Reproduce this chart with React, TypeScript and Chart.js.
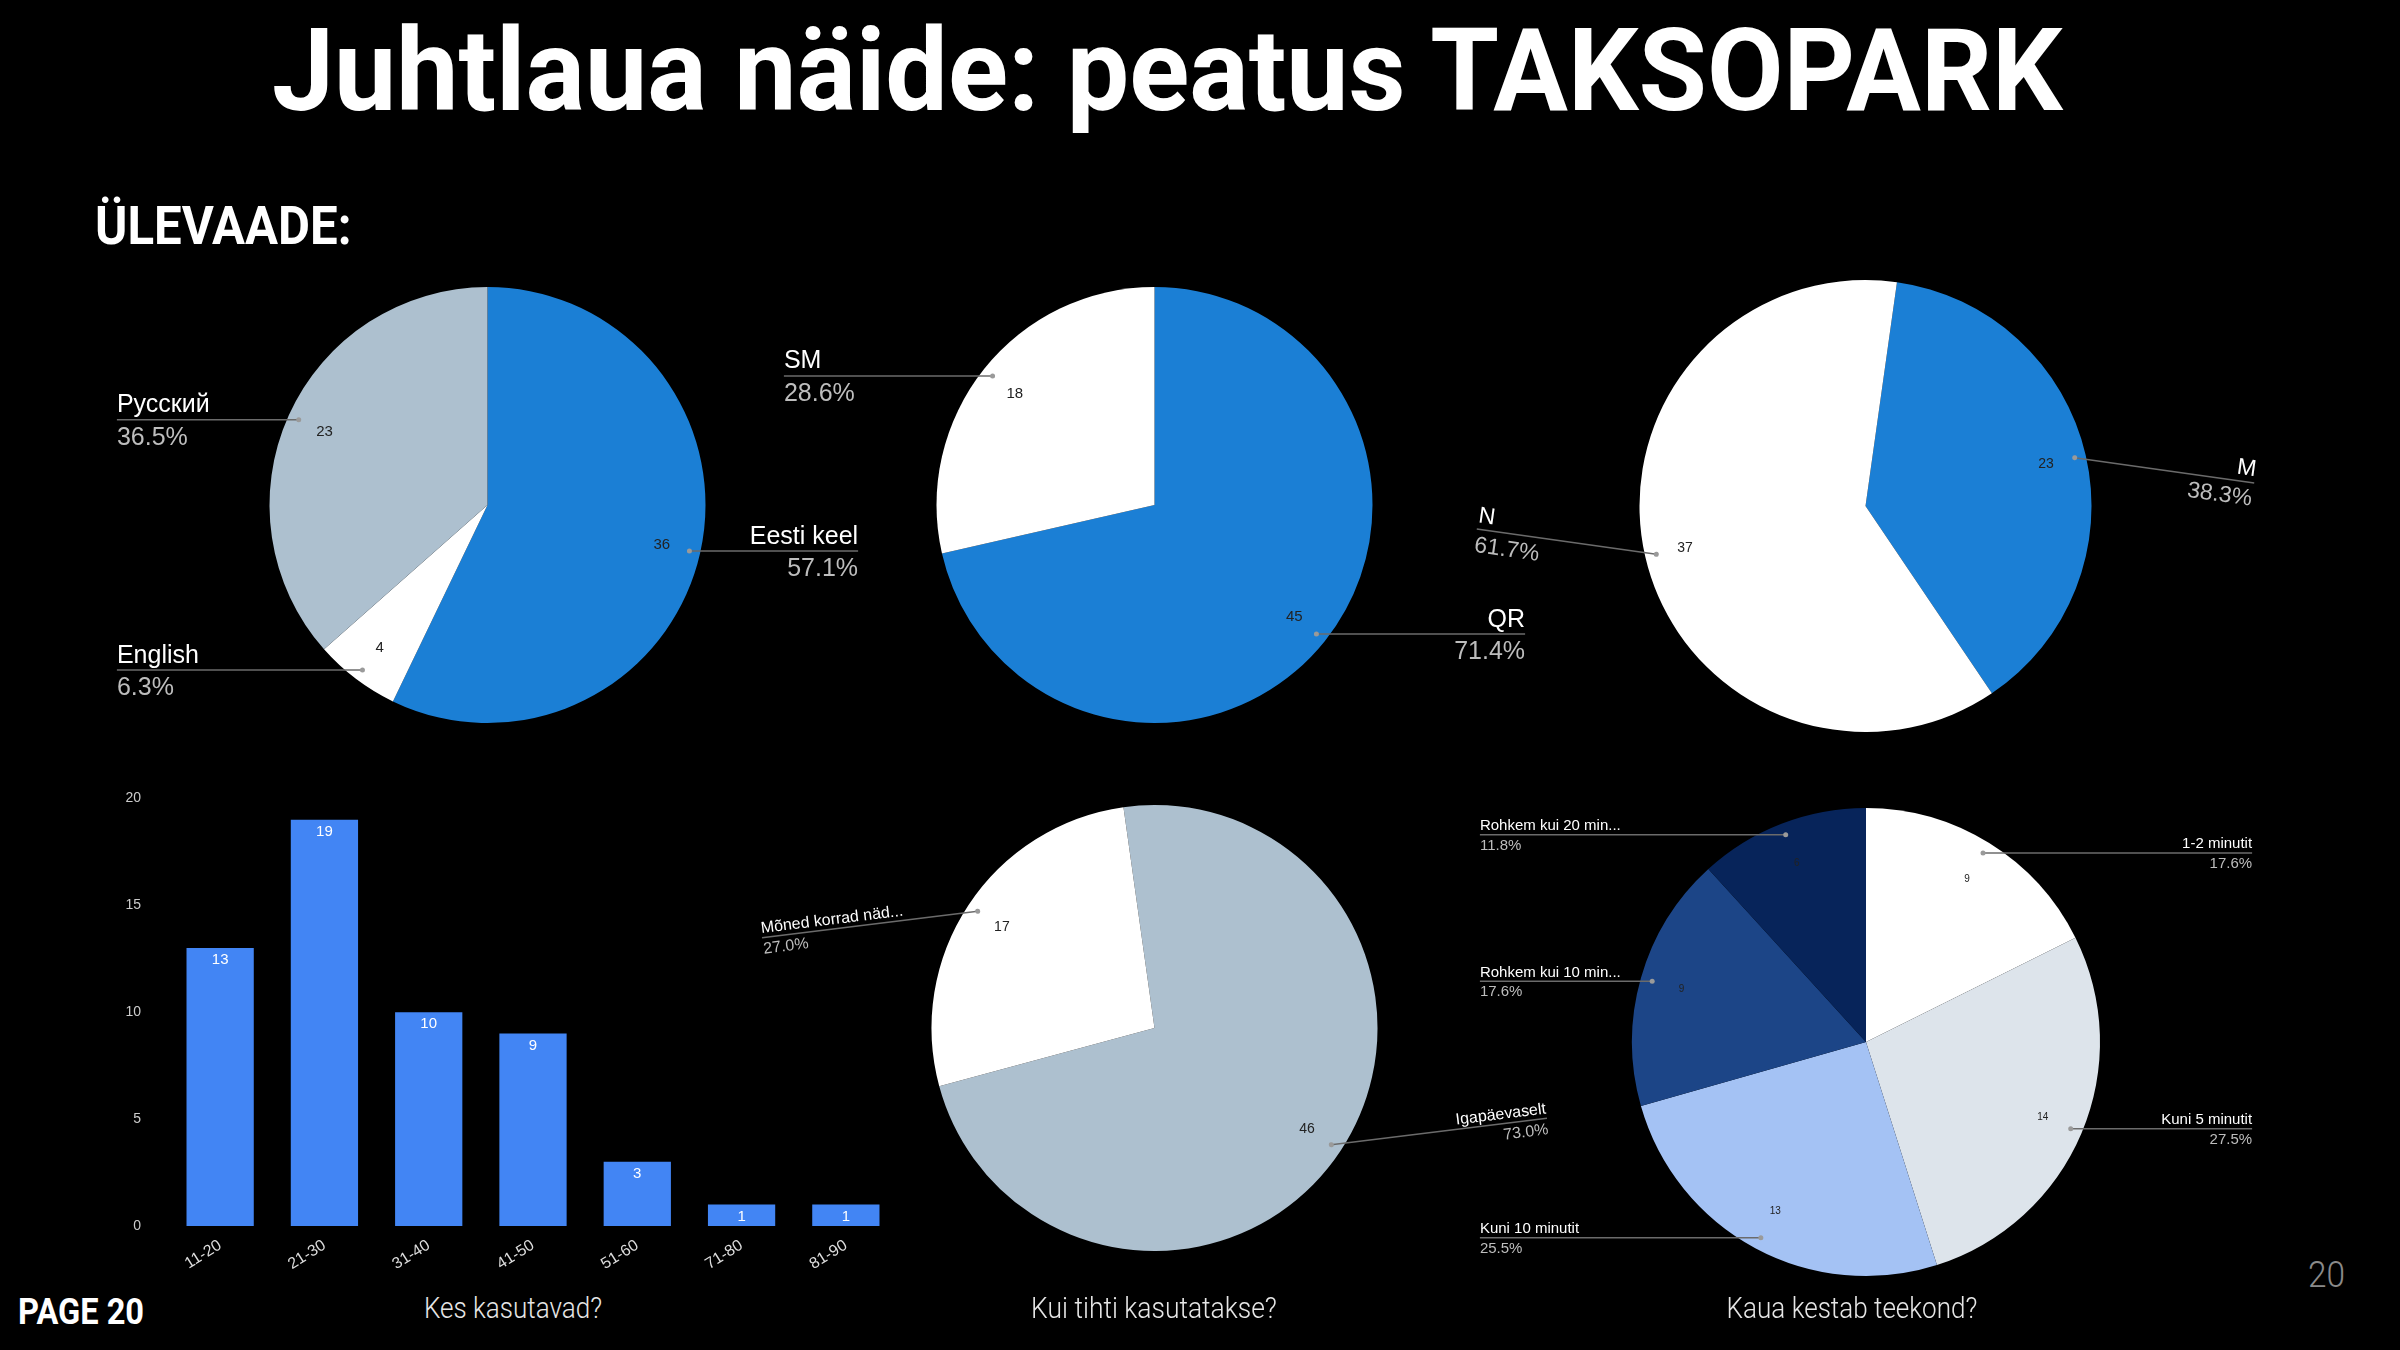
import React, { useEffect, useRef } from 'react';
import { Chart, registerables } from 'chart.js';

Chart.register(...registerables);

// Kes kasutavad? (vanus)
const ageLabels = ['11-20', '21-30', '31-40', '41-50', '51-60', '71-80', '81-90'];
const ageCounts = [13, 19, 10, 9, 3, 1, 1];
const ageTicks = [0, 5, 10, 15, 20];

// keel
const langLabels = ['Eesti keel', 'English', 'Русский'];
const langCounts = [36, 4, 23];
const langColors = ['#1b7fd5', '#ffffff', '#adc0cf'];

// makseviis
const payLabels = ['QR', 'SM'];
const payCounts = [45, 18];
const payColors = ['#1b7fd5', '#ffffff'];

// sugu
const genderLabels = ['M', 'N'];
const genderCounts = [23, 37];
const genderColors = ['#1b7fd5', '#ffffff'];

// Kui tihti kasutatakse?
const freqLabels = ['Igapäevaselt', 'Mõned korrad näd...'];
const freqCounts = [46, 17];
const freqColors = ['#adc0cf', '#ffffff'];

// Kaua kestab teekond?
const tripLabels = ['1-2 minutit', 'Kuni 5 minutit', 'Kuni 10 minutit', 'Rohkem kui 10 min...', 'Rohkem kui 20 min...'];
const tripCounts = [9, 14, 13, 9, 6];
const tripColors = ['#ffffff', '#dde4eb', '#a4c2f4', '#1c4587', '#07245a'];

const LABEL_FONT = '"Liberation Sans", Arial, sans-serif';

// leader-line labels for pies
const calloutPlugin = {
  id: 'callouts',
  afterDatasetsDraw(chart: any, _args: any, opts: any) {
    const { ctx } = chart;
    const meta = chart.getDatasetMeta(0);
    const data = chart.data.datasets[0].data as number[];
    const names = chart.data.labels as string[];
    const total = data.reduce((a, b) => a + b, 0);
    const tilt = ((opts.tilt || 0) * Math.PI) / 180;
    meta.data.forEach((arc: any, i: number) => {
      const { x, y, startAngle, endAngle, outerRadius } = arc.getProps(
        ['x', 'y', 'startAngle', 'endAngle', 'outerRadius'],
        true
      );
      const mid = (startAngle + endAngle) / 2;
      const cos = Math.cos(mid);
      const sin = Math.sin(mid);

      ctx.save();
      ctx.fillStyle = '#222';
      ctx.font = `${opts.valueSize}px ${LABEL_FONT}`;
      ctx.textAlign = 'center';
      ctx.textBaseline = 'middle';
      ctx.fillText(String(data[i]), x + cos * outerRadius * 0.82, y + sin * outerRadius * 0.82);
      ctx.restore();

      const ax = x + cos * outerRadius * 0.95;
      const ay = y + sin * outerRadius * 0.95;
      const right = cos >= 0;
      const sideX = x + (right ? 1 : -1) * outerRadius * opts.side;
      const dx = (sideX - ax) / Math.cos(tilt);
      const fs = opts.nameSize;

      ctx.save();
      ctx.translate(ax, ay);
      ctx.rotate(tilt);
      ctx.strokeStyle = '#6b6b6b';
      ctx.lineWidth = 1.5;
      ctx.beginPath();
      ctx.moveTo(0, 0);
      ctx.lineTo(dx, 0);
      ctx.stroke();
      ctx.fillStyle = '#9a9a9a';
      ctx.beginPath();
      ctx.arc(0, 0, 2.5, 0, Math.PI * 2);
      ctx.fill();
      ctx.textAlign = right ? 'right' : 'left';
      ctx.textBaseline = 'alphabetic';
      ctx.font = `${fs}px ${LABEL_FONT}`;
      ctx.fillStyle = '#ffffff';
      ctx.fillText(names[i], dx, -0.3 * fs);
      ctx.fillStyle = '#bdbdbd';
      ctx.fillText(((data[i] / total) * 100).toFixed(1) + '%', dx, fs);
      ctx.restore();
    });
  },
};

const barValuePlugin = {
  id: 'barValues',
  afterDatasetsDraw(chart: any) {
    const { ctx } = chart;
    const meta = chart.getDatasetMeta(0);
    const data = chart.data.datasets[0].data as number[];
    ctx.save();
    ctx.fillStyle = '#ffffff';
    ctx.font = `15px ${LABEL_FONT}`;
    ctx.textAlign = 'center';
    ctx.textBaseline = 'middle';
    meta.data.forEach((bar: any, i: number) => {
      ctx.fillText(String(data[i]), bar.x, bar.y + 12);
    });
    ctx.restore();
  },
};

interface PieProps {
  labels: string[];
  values: number[];
  colors: string[];
  cx: number;
  cy: number;
  r: number;
  side: number;
  rotation?: number;
  tilt?: number;
  nameSize: number;
  valueSize: number;
}

const PieChart: React.FC<PieProps> = ({ labels, values, colors, cx, cy, r, side, rotation = 0, tilt = 0, nameSize, valueSize }) => {
  const canvasRef = useRef<HTMLCanvasElement>(null);
  const w = Math.round(2 * r * side + 60);
  const h = Math.round(2 * r + 140);

  useEffect(() => {
    if (!canvasRef.current) return;
    const chart = new Chart(canvasRef.current, {
      type: 'pie',
      data: {
        labels,
        datasets: [{ data: values, backgroundColor: colors, borderWidth: 0, hoverOffset: 0 }],
      },
      options: {
        animation: false,
        responsive: true,
        maintainAspectRatio: false,
        events: [],
        rotation,
        layout: {
          padding: { left: w / 2 - r, right: w / 2 - r, top: h / 2 - r, bottom: h / 2 - r },
        },
        plugins: {
          legend: { display: false },
          tooltip: { enabled: false },
          callouts: { side, tilt, nameSize, valueSize },
        } as any,
      },
      plugins: [calloutPlugin],
    });
    return () => chart.destroy();
  }, [labels, values, colors, r, side, rotation, tilt, nameSize, valueSize, w, h]);

  return (
    <div style={ { position: 'absolute', left: cx - w / 2, top: cy - h / 2, width: w, height: h }}>
      <canvas ref={canvasRef}></canvas>
    </div>
  );
};

const AgeBarChart: React.FC = () => {
  const canvasRef = useRef<HTMLCanvasElement>(null);

  useEffect(() => {
    if (!canvasRef.current) return;
    const chart = new Chart(canvasRef.current, {
      type: 'bar',
      data: {
        labels: ageLabels,
        datasets: [
          {
            data: ageCounts,
            backgroundColor: '#4285f4',
            borderWidth: 0,
            barPercentage: 0.645,
            categoryPercentage: 1,
          },
        ],
      },
      options: {
        animation: false,
        responsive: true,
        maintainAspectRatio: false,
        events: [],
        layout: { padding: { top: 0, right: 12, left: 0, bottom: 0 } },
        scales: {
          x: {
            grid: { display: false, drawTicks: false },
            border: { display: false },
            ticks: {
              color: '#dddddd',
              font: { size: 16, family: LABEL_FONT },
              minRotation: 32,
              maxRotation: 32,
              padding: 10,
            },
            afterFit: (axis: any) => {
              axis.height = 54;
            },
          },
          y: {
            min: 0,
            max: 20,
            grid: { display: false, drawTicks: false },
            border: { display: false },
            ticks: {
              color: '#cccccc',
              font: { size: 14, family: LABEL_FONT },
              padding: 27,
            },
            afterBuildTicks: (axis: any) => {
              axis.ticks = ageTicks.map((v) => ({ value: v }));
            },
            afterFit: (axis: any) => {
              axis.width = 68;
            },
          },
        },
        plugins: {
          legend: { display: false },
          tooltip: { enabled: false },
        },
      },
      plugins: [barValuePlugin],
    });
    return () => chart.destroy();
  }, []);

  return (
    <div style={ { position: 'absolute', left: 100, top: 763, width: 810, height: 517 }}>
      <canvas ref={canvasRef}></canvas>
    </div>
  );
};

interface FitTextProps {
  text: string;
  x: number;
  baseline: number;
  size: number;
  width: number;
  weight?: number;
  color?: string;
  align?: 'left' | 'center';
}

// text squeezed horizontally to the width it has on the slide
const FitText: React.FC<FitTextProps> = ({ text, x, baseline, size, width, weight = 400, color = '#fff', align = 'left' }) => {
  const ref = useRef<HTMLSpanElement>(null);

  useEffect(() => {
    const el = ref.current;
    if (!el) return;
    el.style.transform = 'none';
    const k = width / el.offsetWidth;
    el.style.transform = align === 'center' ? `translateX(-50%) scaleX(${k})` : `scaleX(${k})`;
  }, [text, width, align]);

  return (
    <span
      ref={ref}
      style={ {
        position: 'absolute',
        left: x,
        top: baseline - 0.842 * size,
        fontFamily: 'Roboto, sans-serif',
        fontSize: size,
        fontWeight: weight,
        lineHeight: 1,
        color,
        whiteSpace: 'nowrap',
        transformOrigin: align === 'center' ? 'center' : 'left',
      }}
    >
      {text}
    </span>
  );
};

const App: React.FC = () => {
  useEffect(() => {
    document.body.style.margin = '0';
    document.body.style.background = '#000';
  }, []);

  return (
    <div style={ { position: 'relative', width: 2400, height: 1350, background: '#000', overflow: 'hidden' }}>
      <FitText text="Juhtlaua näide: peatus TAKSOPARK" x={272} baseline={110} size={115} width={1791} weight={700} />
      <FitText text="ÜLEVAADE:" x={95} baseline={245} size={53} width={257} weight={700} />

      <PieChart labels={langLabels} values={langCounts} colors={langColors} cx={487} cy={505} r={218} side={1.7} nameSize={25} valueSize={15} />
      <PieChart labels={payLabels} values={payCounts} colors={payColors} cx={1154} cy={505} r={218} side={1.7} nameSize={25} valueSize={15} />
      <PieChart labels={genderLabels} values={genderCounts} colors={genderColors} cx={1865} cy={506} r={226} side={1.72} rotation={8} tilt={8} nameSize={23} valueSize={14} />

      <AgeBarChart />
      <PieChart labels={freqLabels} values={freqCounts} colors={freqColors} cx={1154} cy={1028} r={223} side={1.76} rotation={-8} tilt={-7} nameSize={16} valueSize={14} />
      <PieChart labels={tripLabels} values={tripCounts} colors={tripColors} cx={1866} cy={1042} r={234} side={1.65} nameSize={15} valueSize={10} />

      <FitText text="Kes kasutavad?" x={513} baseline={1318} size={30} width={178} weight={300} color="#e6e6e6" align="center" />
      <FitText text="Kui tihti kasutatakse?" x={1154} baseline={1318} size={30} width={246} weight={300} color="#e6e6e6" align="center" />
      <FitText text="Kaua kestab teekond?" x={1852} baseline={1318} size={30} width={251} weight={300} color="#e6e6e6" align="center" />
      <FitText text="PAGE 20" x={18} baseline={1324} size={37} width={126} weight={700} />
      <FitText text="20" x={2308} baseline={1287} size={37} width={37} weight={300} color="#8a8a8a" />
    </div>
  );
};

export default App;
